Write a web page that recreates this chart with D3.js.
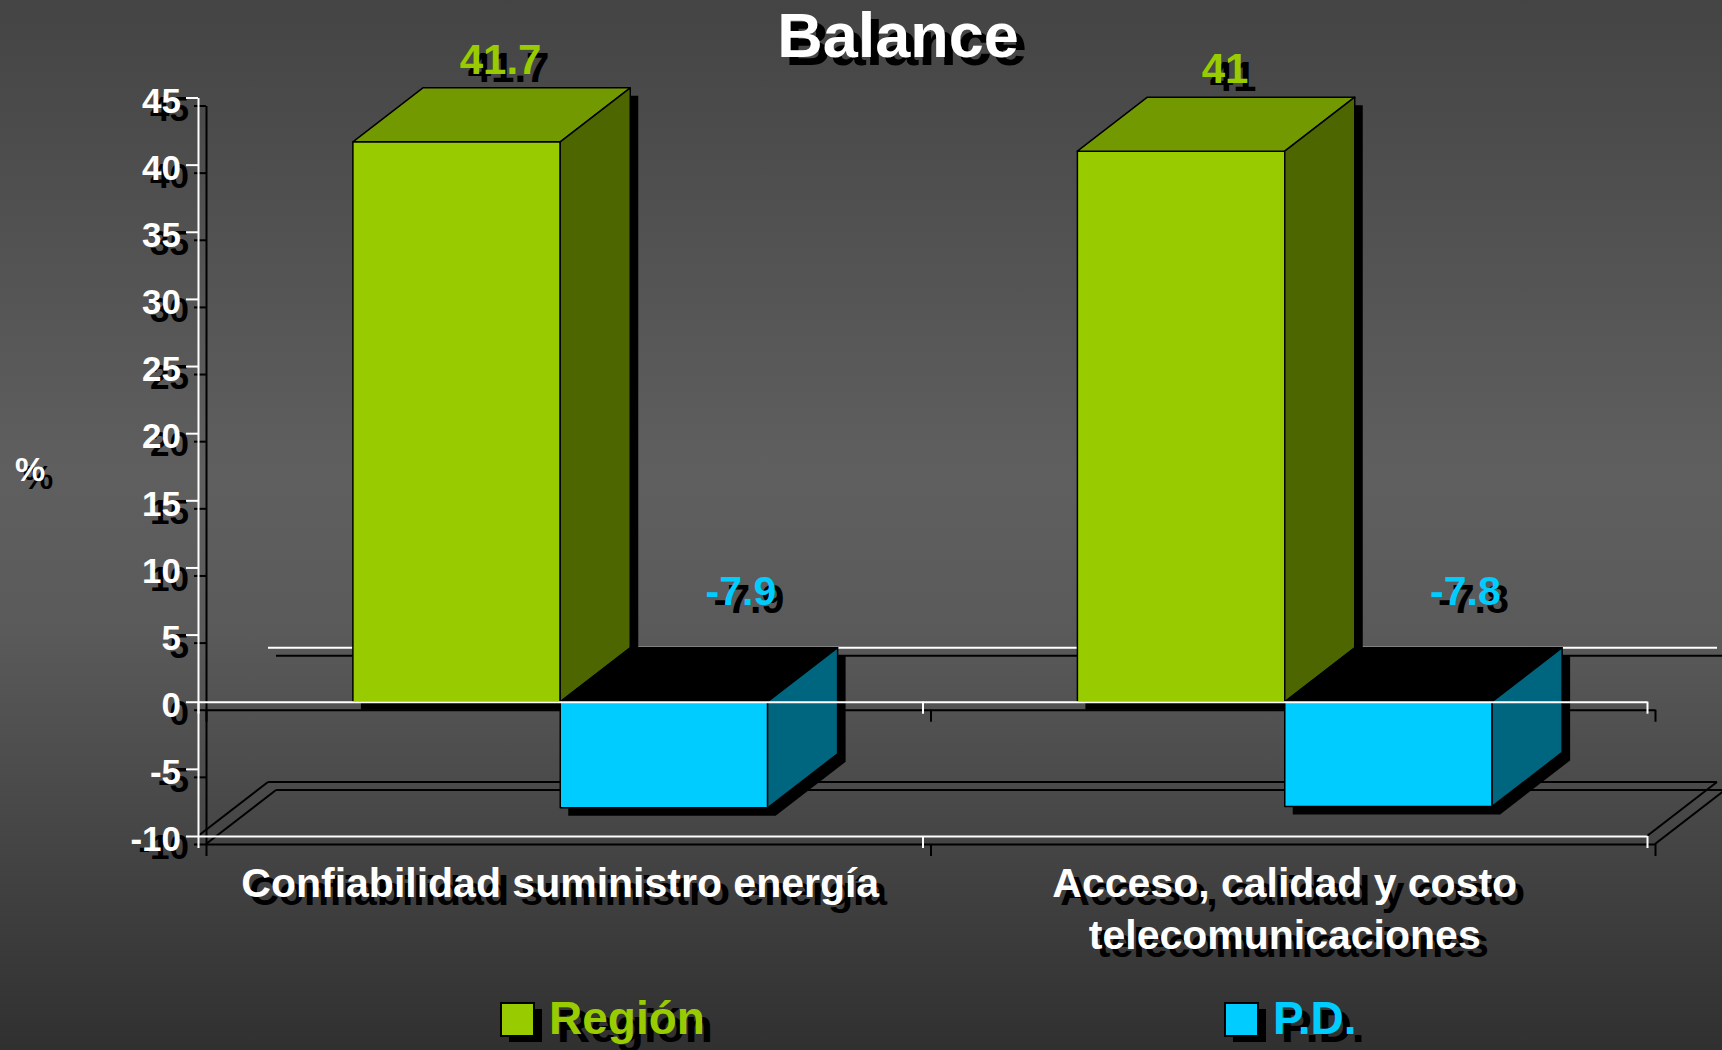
<!DOCTYPE html>
<html>
<head>
<meta charset="utf-8">
<script src="https://cdn.jsdelivr.net/npm/d3@7"></script>
<style>
  body { margin: 0; background: #333; }
  svg text { font-family: "Liberation Sans", Arial, sans-serif; font-weight: bold; }
</style>
</head>
<body>
<svg id="chart"></svg>
<script>
// data
const categories = ["Confiabilidad suministro energía", "Acceso, calidad y costo telecomunicaciones"];
const categoryLines = [["Confiabilidad suministro energía"], ["Acceso, calidad y costo", "telecomunicaciones"]];
const series = ["Región", "P.D."];
const regionValues = [41.7, 41];
const pdValues = [-7.9, -7.8];
const yTicks = [-10, -5, 0, 5, 10, 15, 20, 25, 30, 35, 40, 45];

const width = 1722, height = 1050;
const dx = 70, dy = -54; // 3d depth
const sh = 8; // drop shadow offset

const colors = {
  "Región": { front: "#99cc00", top: "#739900", side: "#4d6600", label: "#99cc00" },
  "P.D.": { front: "#00ccff", top: "#000000", side: "#006680", label: "#00ccff" }
};

const svg = d3.select("#chart").attr("width", width).attr("height", height);

// background
const grad = svg.append("defs").append("linearGradient")
  .attr("id", "bg").attr("x1", 0).attr("y1", 0).attr("x2", 0).attr("y2", 1);
grad.append("stop").attr("offset", "0%").attr("stop-color", "#444444");
grad.append("stop").attr("offset", "45%").attr("stop-color", "#5f5f5f");
grad.append("stop").attr("offset", "60%").attr("stop-color", "#5a5a5a");
grad.append("stop").attr("offset", "100%").attr("stop-color", "#303030");
svg.append("rect").attr("width", width).attr("height", height).attr("fill", "url(#bg)");

const x = d3.scaleBand().domain(categories).range([198, 1647]);
const xs = d3.scaleBand().domain(series).range([0, x.bandwidth()]).paddingOuter(0.747);
const y = d3.scaleLinear().domain([-10, 45]).range([836, 97.5]);
const xEdge = d3.scaleLinear().domain([0, categories.length]).range(x.range());

const [xL, xR] = x.range();

// text with a black drop shadow
function shadowText(g, txt, px, py, size, fill, anchor) {
  g.append("text").attr("x", px + sh).attr("y", py + sh).attr("font-size", size)
    .attr("text-anchor", anchor || "middle").attr("fill", "#000").text(txt);
  g.append("text").attr("x", px).attr("y", py).attr("font-size", size)
    .attr("text-anchor", anchor || "middle").attr("fill", fill).text(txt);
}

function line(g, x1, y1, x2, y2, color) {
  g.append("line").attr("x1", x1).attr("y1", y1).attr("x2", x2).attr("y2", y2)
    .attr("stroke", color).attr("stroke-width", 2);
}

// back wall / floor
const back = svg.append("g");
line(back, xL + dx + sh, y(0) + dy + sh, xR + dx + sh, y(0) + dy + sh, "#000");
line(back, xL + dx, y(0) + dy, xR + dx, y(0) + dy, "#fff");
const fy = y(-10);
[sh, 0].forEach(o => {
  line(back, xL + dx + o, fy + dy + o, xR + dx + o, fy + dy + o, "#000");
  line(back, xL + o, fy + o, xL + dx + o, fy + dy + o, "#000");
  line(back, xR + o, fy + o, xR + dx + o, fy + dy + o, "#000");
});

// axes drawn twice: black shadow then white
function drawYAxis(g, color, off) {
  const ax = g.append("g")
    .attr("transform", `translate(${xL + off},${off})`)
    .call(d3.axisLeft(y).tickValues(yTicks).tickSize(12).tickSizeOuter(0).tickPadding(5).tickFormat(d => String(d)));
  ax.selectAll("path, line").attr("stroke", color).attr("stroke-width", 2);
  ax.selectAll("text").attr("fill", color).attr("font-size", 35).attr("dy", "0.42em")
    .style("font-family", "'Liberation Sans', Arial, sans-serif").style("font-weight", "bold");
}
function drawXAxes(g, color, off) {
  [0, -10].forEach(v => {
    const ax = g.append("g")
      .attr("transform", `translate(${off},${y(v) + off})`)
      .call(d3.axisBottom(xEdge).tickValues(d3.range(categories.length + 1)).tickSize(12).tickSizeOuter(0).tickFormat(""));
    ax.selectAll("path, line").attr("stroke", color).attr("stroke-width", 2);
  });
}

const axShadow = svg.append("g");
drawXAxes(axShadow, "#000", sh);

// bars
const bars = [];
categories.forEach((c, i) => {
  [["Región", regionValues[i]], ["P.D.", pdValues[i]]].forEach(([s, v]) => {
    const x0 = x(c) + xs(s), x1 = x0 + xs.bandwidth();
    bars.push({ cat: c, s, v, x0, x1, yt: y(Math.max(v, 0)), yb: y(Math.min(v, 0)) });
  });
});

const pts = a => a.map(p => p.join(",")).join(" ");

svg.append("g").selectAll("polygon").data(bars).join("polygon")
  .attr("fill", "#000")
  .attr("points", d => pts([
    [d.x0, d.yb], [d.x0, d.yt], [d.x0 + dx, d.yt + dy], [d.x1 + dx, d.yt + dy],
    [d.x1 + dx, d.yb + dy], [d.x1, d.yb]
  ].map(p => [p[0] + sh, p[1] + sh])));

const barG = svg.append("g").selectAll("g").data(bars).join("g")
  .attr("stroke", "#000").attr("stroke-width", 1.5).attr("stroke-linejoin", "round");
barG.append("rect")
  .attr("x", d => d.x0).attr("y", d => d.yt)
  .attr("width", d => d.x1 - d.x0).attr("height", d => d.yb - d.yt)
  .attr("fill", d => colors[d.s].front);
barG.append("polygon")
  .attr("points", d => pts([[d.x0, d.yt], [d.x1, d.yt], [d.x1 + dx, d.yt + dy], [d.x0 + dx, d.yt + dy]]))
  .attr("fill", d => colors[d.s].top);
barG.append("polygon")
  .attr("points", d => pts([[d.x1, d.yt], [d.x1 + dx, d.yt + dy], [d.x1 + dx, d.yb + dy], [d.x1, d.yb]]))
  .attr("fill", d => colors[d.s].side);

// front axes
drawYAxis(svg.append("g"), "#000", sh);
drawYAxis(svg.append("g"), "#fff", 0);
drawXAxes(svg.append("g"), "#fff", 0);

// value labels
const lab = svg.append("g");
bars.forEach(d => {
  const cx = (d.x0 + d.x1) / 2;
  if (d.v >= 0) {
    shadowText(lab, String(d.v), cx + 44, y(d.v) - 68, 42, colors[d.s].label);
  } else {
    shadowText(lab, String(d.v), cx + 77, y(0) - 97, 41, colors[d.s].label);
  }
});

// category labels
const catG = svg.append("g");
categories.forEach((c, i) => {
  categoryLines[i].forEach((t, j) => {
    shadowText(catG, t, x(c) + x.bandwidth() / 2, 897 + j * 52, 41, "#fff");
  });
});

// title and y label
shadowText(svg, "Balance", 898, 57, 63, "#fff");
shadowText(svg, "%", 15, 481, 34, "#fff", "start");

// legend
const legendX = [501, 1225];
const leg = svg.append("g");
series.forEach((s, i) => {
  leg.append("rect").attr("x", legendX[i] + sh).attr("y", 1003 + sh - 2).attr("width", 33).attr("height", 33).attr("fill", "#000");
  leg.append("rect").attr("x", legendX[i]).attr("y", 1003).attr("width", 33).attr("height", 33)
    .attr("fill", colors[s].front).attr("stroke", "#000").attr("stroke-width", 2);
  shadowText(leg, s, legendX[i] + 48, 1034, 46, colors[s].label, "start");
});
</script>
</body>
</html>
